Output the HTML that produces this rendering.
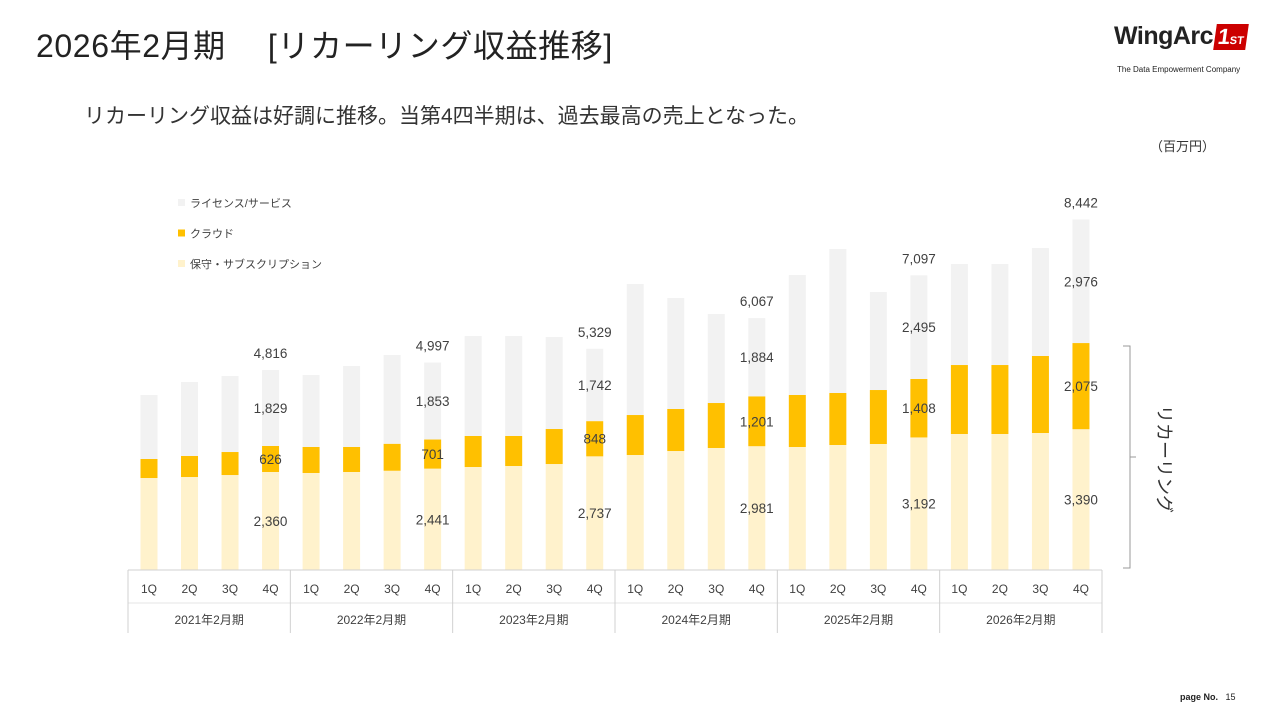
<!DOCTYPE html>
<html><head><meta charset="utf-8">
<style>
body{margin:0;width:1280px;height:720px;background:#fff;font-family:"Liberation Sans","Noto Sans CJK JP",sans-serif;position:relative;overflow:hidden;color:#333}
.abs{position:absolute;white-space:nowrap}
</style></head><body>
<div class="abs" style="left:36px;top:21px;font-size:32px;letter-spacing:0.6px;color:#222">2026年2月期　 [リカーリング収益推移]</div>
<div class="abs" style="left:84px;top:100px;font-size:21px;letter-spacing:0px;color:#333">リカーリング収益は好調に推移。当第4四半期は、過去最高の売上となった。</div>
<div class="abs" style="left:1150px;top:136px;font-size:13px;color:#333">（百万円）</div>
<div class="abs" style="left:1114px;top:22px;">
  <span style="font-size:25px;font-weight:bold;color:#222;letter-spacing:-0.5px">WingArc</span><span style="display:inline-block;background:#c00;color:#fff;font-weight:bold;font-size:22px;padding:0 3px;margin-left:2px;transform:skewX(-8deg)">1<span style="font-size:11px">ST</span></span>
</div>
<div class="abs" style="left:1117px;top:65px;font-size:8px;color:#222">The Data Empowerment Company</div>
<div class="abs" style="left:1180px;top:692px;font-size:9px;color:#222"><b>page No.</b>&nbsp;&nbsp;&nbsp;15</div>
<svg id="chart" width="1280" height="720" style="position:absolute;left:0;top:0"></svg>
<script>
const years=["2021年2月期","2022年2月期","2023年2月期","2024年2月期","2025年2月期","2026年2月期"];
const quarters=["1Q","2Q","3Q","4Q"];
const maintenance=[2215,2239,2287,2360,2336,2360,2390,2441,2480,2504,2552,2737,2769,2865,2938,2981,2962,3010,3034,3192,3275,3275,3299,3390];
const cloud=[458,506,554,626,626,602,650,701,747,723,843,848,963,1012,1083,1201,1252,1252,1300,1408,1661,1661,1854,2075];
const license=[1541,1782,1830,1829,1733,1950,2137,1853,2407,2407,2215,1742,3155,2672,2143,1884,2889,3467,2360,2495,2432,2432,2600,2976];
const labelled=[3,7,11,15,19,23];
const totalLabels=[4816,4997,5329,6067,7097,8442];
const NS="http://www.w3.org/2000/svg";
const svg=document.getElementById('chart');
const base=570,scale=200/4816,x0=149,step=40.52,bw=17;
const X=i=>x0+i*step, H=v=>v*scale;
function el(t,a,p){const e=document.createElementNS(NS,t);for(const k in a)e.setAttribute(k,a[k]);(p||svg).appendChild(e);return e;}
function fmt(v){return v.toLocaleString('en-US');}
for(let i=0;i<maintenance.length;i++){
  const x=X(i)-bw/2;let y=base;
  const segs=[[maintenance[i],'#fff2cc','maintenance'],[cloud[i],'#ffc000','cloud'],[license[i],'#f2f2f2','license']];
  const mids=[];
  for(const s of segs){const h=H(s[0]);y-=h;
    const r=el('rect',{x:x,y:y,width:bw,height:h,fill:s[1]});
    
    
    mids.push(y+h/2);}
  const li=labelled.indexOf(i);
  if(li>=0){
    const vals=[maintenance[i],cloud[i],license[i]];
    vals.forEach((v,k)=>{const t=el('text',{x:X(i),y:mids[k]+5,'text-anchor':'middle','font-size':13.5,fill:'#404040'});t.textContent=fmt(v);
      });
    const t=el('text',{x:X(i),y:y-12,'text-anchor':'middle','font-size':13.5,fill:'#404040'});t.textContent=fmt(totalLabels[li]);
    
  }
  const q=el('text',{x:X(i),y:593,'text-anchor':'middle','font-size':12,fill:'#404040'});q.textContent=quarters[i%4];
  
}
const L=128,R=1102;
el('line',{x1:L,y1:570,x2:R,y2:570,stroke:'#d0d0d0'});
el('line',{x1:L,y1:603,x2:R,y2:603,stroke:'#e4e4e4'});
years.forEach((yr,g)=>{
  const xl=L+g*(R-L)/years.length;
  el('line',{x1:xl,y1:570,x2:xl,y2:633,stroke:'#d0d0d0'});
  const t=el('text',{x:xl+(R-L)/years.length/2,y:624,'text-anchor':'middle','font-size':12,fill:'#404040'});t.textContent=yr;
  
});
el('line',{x1:R,y1:570,x2:R,y2:633,stroke:'#d0d0d0'});
const leg=[['ライセンス/サービス','#f2f2f2'],['クラウド','#ffc000'],['保守・サブスクリプション','#fff2cc']];
leg.forEach((l,k)=>{const y=203+k*30.5;
  const r=el('rect',{x:178,y:y-4,width:7,height:7,fill:l[1]});
  const t=el('text',{x:190,y:y+4,'font-size':11,fill:'#404040'});t.textContent=l[0];});
el('path',{d:'M1123 346 H1130 V568 H1123 M1130 457 H1136',stroke:'#999',fill:'none'});
const vt=el('text',{x:0,y:0,'font-size':18,fill:'#333',transform:'translate(1158,405) rotate(90)'});vt.textContent='リカーリング';

</script>
</body></html>
